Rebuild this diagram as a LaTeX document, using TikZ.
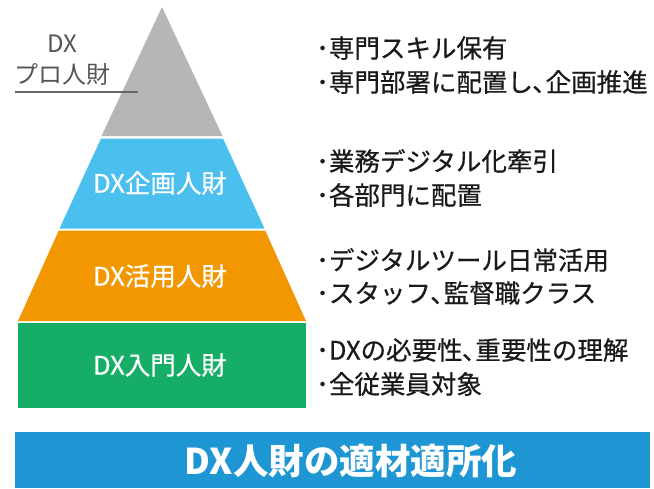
\documentclass[tikz,border=0pt]{standalone}
\usepackage{fontspec}
\setmainfont{Noto Sans CJK JP}
\newfontfamily\medfont{Noto Sans CJK JP}[FakeBold=0.6]
\definecolor{pgray}{HTML}{B5B6B6}
\definecolor{pblue}{HTML}{4BBFEE}
\definecolor{porange}{HTML}{F29700}
\definecolor{pgreen}{HTML}{16AE67}
\definecolor{banner}{HTML}{1E96D3}
\definecolor{labgray}{HTML}{555555}
\definecolor{txt}{HTML}{1A1A1A}
\tikzset{
  bandlabel/.style={text=white, font=\medfont\fontsize{25.5}{27}\selectfont, inner sep=0pt},
  desc/.style={text=txt, font=\medfont\fontsize{25.5}{28}\selectfont, anchor=west, inner sep=0pt},
  prolabel/.style={text=labgray, font=\fontsize{24}{26}\selectfont, inner sep=0pt},
}
\begin{document}
\begin{tikzpicture}[x=1pt,y=-1pt]
\useasboundingbox (0,0) rectangle (654,488);
% pyramid bands
\fill[pgray] (162,7) -- (222.5,136) -- (101.5,136) -- cycle;
\fill[pblue] (101,138.5) -- (223,138.5) -- (264.5,228.5) -- (59.5,228.5) -- cycle;
\fill[porange] (58.8,230.5) -- (265.2,230.5) -- (306,321) -- (18,321) -- cycle;
\fill[pgreen] (18,323) rectangle (306,407.5);
% labels in pyramid
\node[bandlabel] (lblue) at (160,183) {DX企画人財};
\node[bandlabel] (lorange) at (160,276) {DX活用人財};
\node[bandlabel] (lgreen) at (160,365) {DX入門人財};
% DX pro label
\node[prolabel] (ldx) at (62,43.5) {DX};
\node[prolabel] (lpro) at (63,74) {プロ人財};
\coordinate (ulA) at (15,92);
\coordinate (ulB) at (138,92);
\draw[labgray!90, line width=1.3pt] (ulA) -- (ulB);
% descriptions
\node[desc] (d1) at (316,48) {･専門スキル保有};
\node[desc] (d2) at (316,82) {･専門部署に配置し､企画推進};
\node[desc] (d3) at (316,161) {･業務デジタル化牽引};
\node[desc] (d4) at (316,195) {･各部門に配置};
\node[desc] (d5) at (316,260) {･デジタルツール日常活用};
\node[desc] (d6) at (316,293) {･スタッフ､監督職クラス};
\node[desc] (d7) at (316,350) {･DXの必要性､重要性の理解};
\node[desc] (d8) at (316,384) {･全従業員対象};
% banner
\fill[banner] (15,432) rectangle (650,488);
\node[text=white, font=\fontsize{35.5}{38}\selectfont\bfseries, inner sep=0pt] (ban) at (351,461) {DX人財の適材適所化};
\end{tikzpicture}
\end{document}
